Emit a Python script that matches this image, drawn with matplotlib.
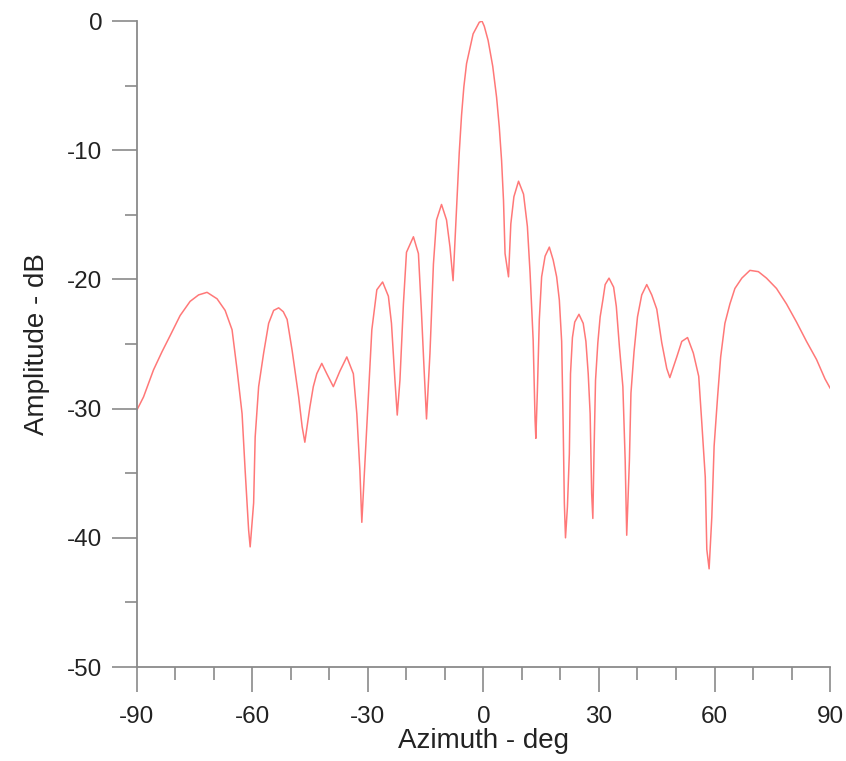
import matplotlib
matplotlib.use("Agg")
import matplotlib.pyplot as plt
from matplotlib.ticker import MultipleLocator

# azimuth pattern
az_deg = [
    -90.0, -88.3, -85.7, -83.5, -81.3, -78.8, -76.2, -74.0, -71.8, -69.2,
    -67.1, -65.3, -64.0, -62.7, -61.9, -61.0, -60.6, -59.7, -59.3, -58.4,
    -57.1, -55.8, -54.5, -53.2, -52.0, -51.0, -49.7, -48.0, -47.1, -46.4,
    -45.1, -44.2, -43.3, -42.0, -40.7, -39.0, -37.3, -35.5, -33.8, -32.9,
    -32.1, -31.6, -30.8, -29.9, -29.0, -27.7, -26.2, -24.7, -23.9, -23.0,
    -22.4, -21.7, -20.8, -20.0, -18.2, -16.9, -16.1, -15.5, -14.8, -13.9,
    -13.0, -12.2, -10.9, -9.6, -8.7, -7.9, -7.0, -6.3, -5.7, -5.1,
    -4.4, -3.5, -2.7, -1.1, -0.4, 0.2, 1.2, 2.4, 3.4, 4.1,
    4.7, 5.2, 5.6, 6.5, 7.1, 7.9, 9.1, 10.4, 11.4, 12.1,
    12.9, 13.4, 13.6, 14.0, 14.5, 15.1, 16.0, 17.1, 18.1, 19.0,
    19.7, 20.3, 20.7, 21.0, 21.3, 21.8, 22.3, 22.6, 23.1, 23.7,
    24.8, 25.9, 26.6, 27.2, 27.7, 28.1, 28.4, 28.7, 29.1, 29.7,
    30.3, 31.0, 31.6, 32.6, 33.8, 34.5, 35.3, 36.2, 36.8, 37.2,
    37.9, 38.3, 39.1, 40.0, 41.1, 42.4, 43.7, 45.0, 46.3, 47.6,
    48.4, 49.3, 50.2, 51.5, 53.0, 54.5, 55.9, 56.7, 57.6, 58.0,
    58.6, 59.3, 59.9, 60.8, 61.6, 62.7, 64.0, 65.3, 67.1, 69.2,
    71.4, 73.5, 76.1, 78.7, 81.3, 83.9, 86.5, 88.7, 90.0,
]
amp_db = [
    -30.1, -29.1, -27.0, -25.6, -24.3, -22.8, -21.7, -21.2, -21.0, -21.5,
    -22.4, -23.9, -27.0, -30.4, -34.8, -39.4, -40.7, -37.3, -32.2, -28.3,
    -25.7, -23.4, -22.4, -22.2, -22.5, -23.1, -25.5, -29.1, -31.4, -32.6,
    -29.9, -28.3, -27.3, -26.5, -27.3, -28.3, -27.1, -26.0, -27.3, -30.4,
    -34.8, -38.8, -34.2, -29.1, -23.9, -20.8, -20.2, -21.3, -23.4, -27.8,
    -30.5, -27.8, -21.9, -17.9, -16.7, -18.0, -22.6, -26.5, -30.8, -25.7,
    -18.8, -15.4, -14.2, -15.4, -17.5, -20.1, -14.6, -10.2, -7.3, -5.1,
    -3.3, -2.1, -1.0, -0.1, 0.0, -0.4, -1.5, -3.5, -5.9, -8.2,
    -10.8, -13.9, -18.0, -19.8, -15.7, -13.6, -12.4, -13.4, -15.9, -19.5,
    -24.7, -30.9, -32.3, -28.6, -23.1, -19.8, -18.2, -17.5, -18.5, -19.8,
    -21.6, -24.8, -31.4, -37.3, -40.0, -37.6, -33.5, -27.3, -24.5, -23.3,
    -22.7, -23.4, -24.8, -27.3, -30.4, -36.6, -38.5, -33.5, -27.8, -24.9,
    -22.9, -21.6, -20.4, -19.9, -20.6, -22.1, -25.2, -28.3, -34.0, -39.8,
    -34.0, -28.8, -25.6, -22.9, -21.2, -20.4, -21.2, -22.3, -24.9, -26.9,
    -27.6, -26.8, -26.0, -24.8, -24.5, -25.7, -27.5, -31.1, -35.3, -40.9,
    -42.4, -38.4, -32.9, -29.1, -26.0, -23.4, -21.9, -20.7, -19.9, -19.3,
    -19.4, -19.9, -20.7, -21.9, -23.3, -24.8, -26.2, -27.7, -28.4,
]

x_ticks = [-90, -60, -30, 0, 30, 60, 90]
y_ticks = [0, -10, -20, -30, -40, -50]

plt.rcParams['font.family'] = ['Liberation Sans', 'DejaVu Sans']
plt.rcParams['axes.unicode_minus'] = False

fig = plt.figure(figsize=(8.46, 7.61), dpi=100)
ax = fig.add_axes([0.1619, 0.1235, 0.8192, 0.8489])

ax.plot(az_deg, amp_db, color='#ff7878', linewidth=1.1)

ax.set_xlim(-90, 90)
ax.set_ylim(-50, 0)
ax.set_xticks(x_ticks)
ax.set_yticks(y_ticks)
ax.xaxis.set_minor_locator(MultipleLocator(10))
ax.yaxis.set_minor_locator(MultipleLocator(5))

for side in ['top', 'right']:
    ax.spines[side].set_visible(False)
for side in ['left', 'bottom']:
    ax.spines[side].set_color('#8a8a8a')
    ax.spines[side].set_linewidth(1.3)

ax.tick_params(axis='both', which='major', direction='out', length=18,
               width=1.2, color='#8a8a8a', labelsize=17.5, labelcolor='#222222')
ax.tick_params(axis='both', which='minor', direction='out', length=9,
               width=1.2, color='#8a8a8a')
ax.tick_params(axis='x', which='major', pad=10)
ax.tick_params(axis='y', which='major', pad=7)

ax.set_xlabel('Azimuth - deg', fontsize=20, color='#222222', labelpad=0)
ax.set_ylabel('Amplitude - dB', fontsize=20, color='#222222', labelpad=12)

fig.savefig('out.png', dpi=100)
